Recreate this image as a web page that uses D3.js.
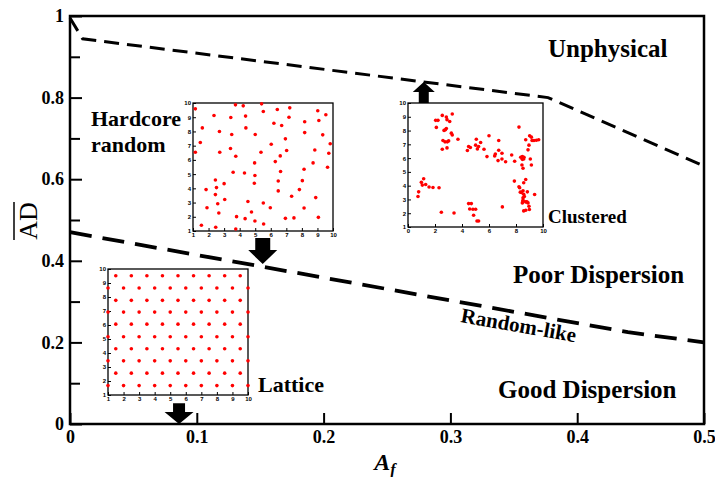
<!DOCTYPE html>
<html>
<head>
<meta charset="utf-8">
<script src="https://cdn.jsdelivr.net/npm/d3@7"></script>
<style>
  html, body { margin: 0; padding: 0; background: #fff; }
  svg { display: block; }
</style>
</head>
<body>
<div id="chart"></div>
<script>
// Phase diagram: mean AD against area fraction A_f

const xTicks = [0, 0.1, 0.2, 0.3, 0.4, 0.5];
const yTicks = [0, 0.2, 0.4, 0.6, 0.8, 1];
const yMinorTicks = [0.1, 0.3, 0.5, 0.7, 0.9];

// upper boundary (unphysical region)
const upperX = [0, 0.01, 0.377, 0.5];
const upperY = [0.995, 0.944, 0.80, 0.632];

// random-like reference curve
const lowerX = [0, 0.44, 0.5];
const lowerY = [0.47, 0.225, 0.2];

// inset: hardcore random configuration
const hardX = [1.15, 3.73, 4.23, 5.41, 2.35, 3.43, 4.38, 5.52, 6.42, 7.22, 9.02, 9.54,
  1.60, 4.40, 6.20, 6.70, 7.17, 8.18, 9.09, 2.70, 3.49, 5.00, 6.94, 8.18, 9.34,
  1.47, 3.41, 6.03, 9.82, 1.15, 2.72, 3.75, 5.37, 7.02, 8.83, 6.61, 9.73,
  4.96, 6.29, 8.72, 9.65, 3.58, 4.31, 4.98, 6.63, 8.14, 2.44, 6.48, 8.03,
  1.84, 2.51, 3.00, 4.94, 6.48, 7.84, 2.44, 7.34, 8.89, 3.04, 2.59, 4.53, 5.52,
  1.90, 5.97, 8.14, 2.66, 4.76, 3.80, 4.35, 6.94, 7.49, 9.06, 1.54, 2.46, 3.75, 4.98, 5.54];
const hardY = [9.59, 9.87, 9.80, 9.94, 9.12, 8.98, 9.08, 9.40, 9.54, 9.66, 9.45, 9.17,
  8.25, 8.25, 8.58, 8.42, 9.00, 8.68, 8.77, 8.00, 7.78, 7.78, 7.48, 7.92, 7.76,
  7.22, 6.80, 7.10, 7.13, 6.54, 6.54, 6.26, 6.54, 6.66, 6.70, 6.28, 6.47,
  5.79, 5.88, 5.79, 5.48, 5.13, 5.08, 4.90, 5.18, 5.34, 4.59, 4.52, 4.54,
  3.91, 4.05, 4.33, 4.36, 3.82, 3.91, 3.56, 3.44, 3.35, 3.21, 2.92, 3.07, 2.97,
  2.64, 2.64, 2.62, 2.27, 2.34, 2.01, 1.87, 1.89, 1.92, 1.96, 1.40, 1.26, 1.14, 1.70, 1.49];

// inset: clustered configuration
const clusX = [2.54, 2.84, 3.28, 2.05, 2.22, 2.89, 3.09, 2.10, 2.67, 2.77, 2.84, 3.21, 3.28, 3.70,
  2.59, 3.01, 2.74, 2.91, 2.54, 2.89,
  4.40, 4.49, 4.62, 5.01, 5.14, 5.23, 5.06, 5.38, 5.63, 6.00, 5.85, 6.47, 6.42, 6.72, 6.72,
  6.67, 6.96, 6.96, 7.23, 7.68, 7.90,
  8.22, 8.35, 8.47, 8.47, 8.57, 8.59, 8.52, 8.44, 8.72, 9.01, 9.14, 8.96, 8.89, 9.06, 9.14,
  9.19, 9.33, 9.51, 9.68,
  7.88, 8.22, 8.27, 8.32, 8.40, 8.57, 8.52, 8.57, 8.62, 8.72, 8.52, 8.52, 8.52, 8.72, 8.81,
  8.89, 8.96, 8.99, 8.72, 8.57, 8.47, 9.38, 6.99, 8.84,
  0.74, 0.79, 0.99, 1.06, 1.16, 1.31, 1.56, 1.85, 2.30, 2.47,
  3.41, 4.49, 4.69, 4.81, 4.86, 5.01, 5.11, 5.23, 4.57, 5.51];
const clusY = [9.10, 8.98, 9.20, 8.74, 8.74, 8.79, 8.66, 8.23, 8.01, 8.06, 8.15, 7.81, 7.68, 7.37,
  7.28, 7.25, 7.18, 7.18, 6.64, 6.74,
  6.55, 6.84, 6.77, 6.94, 6.67, 6.84, 7.37, 7.13, 6.64, 7.62, 6.11, 6.30, 6.16, 7.28, 6.57,
  5.82, 6.35, 5.94, 5.74, 6.23, 5.77,
  8.25, 6.06, 5.91, 6.11, 5.94, 6.06, 5.26, 5.50, 7.33, 7.62, 7.52, 6.94, 6.60, 5.94, 5.50,
  7.28, 7.28, 7.30, 7.33,
  4.33, 3.92, 3.85, 3.53, 3.51, 4.21, 3.63, 3.38, 3.21, 4.45, 3.12, 2.95, 2.87, 2.82, 2.82,
  2.75, 2.51, 2.27, 2.22, 2.17, 2.75, 3.36, 2.46,
  3.55, 3.21, 3.55, 4.24, 4.04, 4.50, 4.09, 3.90, 3.87, 3.85,
  2.07, 2.02, 2.70, 2.70, 2.29, 1.85, 2.29, 1.44, 1.44, 2.31];

// inset: triangular lattice (rows alternate between the two column sets)
const latRowY = [9.52, 8.64, 7.76, 6.92, 6.06, 5.16, 4.30, 3.44, 2.56, 1.67];
const latColsShift = [1.5, 2.5, 3.5, 4.5, 5.5, 6.5, 7.5, 8.5, 9.5];
const latColsFull = [1, 2, 3, 4, 5, 6, 7, 8, 9, 10];

const insetTicks = [1, 2, 3, 4, 5, 6, 7, 8, 9, 10];
const clusXTicks = [0, 2, 4, 6, 8, 10];

const SERIF = "'Liberation Serif', 'Times New Roman', Times, 'DejaVu Serif', serif";

const width = 715, height = 477;
const margin = { top: 16, right: 11, bottom: 53, left: 70 };

const svg = d3.select("#chart").append("svg")
    .attr("width", width)
    .attr("height", height)
    .attr("font-family", SERIF)
    .style("background", "#fff");

const x = d3.scaleLinear().domain([0, 0.5]).range([margin.left, width - margin.right]);
const y = d3.scaleLinear().domain([0, 1]).range([height - margin.bottom, margin.top]);

// --- axes (ticks point inward) ---
const gy = svg.append("g")
    .attr("class", "main-axis")
    .attr("transform", `translate(${margin.left},0)`)
    .call(d3.axisLeft(y)
        .tickValues(yTicks)
        .tickSizeInner(-12)
        .tickSizeOuter(0)
        .tickPadding(6)
        .tickFormat(d => String(d)));

svg.append("g")
    .attr("class", "main-axis")
    .attr("transform", `translate(${margin.left},0)`)
    .call(d3.axisLeft(y).tickValues(yMinorTicks).tickSizeInner(-10).tickSizeOuter(0).tickFormat(""));

svg.append("g")
    .attr("class", "main-axis")
    .attr("transform", `translate(0,${y(0)})`)
    .call(d3.axisBottom(x)
        .tickValues(xTicks)
        .tickSizeInner(-11)
        .tickSizeOuter(0)
        .tickPadding(6)
        .tickFormat(d => String(d)));

svg.selectAll(".main-axis .domain").remove();
svg.selectAll(".main-axis").attr("font-family", null);
svg.selectAll(".main-axis .tick line").attr("stroke", "#000").attr("stroke-width", 2);
svg.selectAll(".main-axis .tick text")
    .attr("fill", "#000")
    .style("font-family", SERIF)
    .style("font-size", "18px")
    .style("font-weight", "bold");

// frame
svg.append("rect")
    .attr("x", x(0))
    .attr("y", y(1))
    .attr("width", x(0.5) - x(0))
    .attr("height", y(0) - y(1))
    .attr("fill", "none")
    .attr("stroke", "#000")
    .attr("stroke-width", 2.5);

// --- curves ---
const line = d3.line().x(d => x(d[0])).y(d => y(d[1]));

svg.append("path")
    .datum(d3.zip(upperX, upperY))
    .attr("d", line)
    .attr("fill", "none")
    .attr("stroke", "#000")
    .attr("stroke-width", 3)
    .attr("stroke-dasharray", "15,8");

svg.append("path")
    .datum(d3.zip(lowerX, lowerY))
    .attr("d", line)
    .attr("fill", "none")
    .attr("stroke", "#000")
    .attr("stroke-width", 3.8)
    .attr("stroke-dasharray", "22,11");

// --- insets ---
function drawInset(box, xDom, yDom, xLabels, pts) {
    const ix = d3.scaleLinear().domain(xDom).range([box.x, box.x + box.w]);
    const iy = d3.scaleLinear().domain(yDom).range([box.y + box.h, box.y]);
    const g = svg.append("g");

    g.append("rect")
        .attr("x", box.x).attr("y", box.y)
        .attr("width", box.w).attr("height", box.h)
        .attr("fill", "#fff")
        .attr("stroke", "#000")
        .attr("stroke-width", 1.3);

    g.append("g")
        .attr("transform", `translate(0,${box.y + box.h})`)
        .call(d3.axisBottom(ix).tickValues(xLabels).tickSizeInner(-3).tickSizeOuter(0)
            .tickPadding(2).tickFormat(d => String(d)));
    g.append("g")
        .attr("transform", `translate(${box.x},0)`)
        .call(d3.axisLeft(iy).tickValues(insetTicks).tickSizeInner(-3).tickSizeOuter(0)
            .tickPadding(2).tickFormat(d => String(d)));
    g.selectAll(".domain").remove();
    g.selectAll(".tick line").attr("stroke", "#000").attr("stroke-width", 1);
    g.selectAll(".tick text")
        .attr("fill", "#000")
        .style("font-size", "6px")
        .style("font-weight", "bold")
        .style("font-family", "'Liberation Sans', Arial, sans-serif");

    g.selectAll("circle.pt")
        .data(pts)
        .join("circle")
        .attr("class", "pt")
        .attr("cx", d => ix(d[0]))
        .attr("cy", d => iy(d[1]))
        .attr("r", 1.8)
        .attr("fill", "#ff0000");
}

drawInset({ x: 193, y: 103, w: 140, h: 128 }, [1, 10], [1, 10], insetTicks, d3.zip(hardX, hardY));
drawInset({ x: 408, y: 103, w: 135, h: 124 }, [0, 10], [1, 10], clusXTicks, d3.zip(clusX, clusY));

const latticePts = [];
latRowY.forEach((ry, i) => {
    (i % 2 === 0 ? latColsShift : latColsFull).forEach(cx => latticePts.push([cx, ry]));
});
drawInset({ x: 108, y: 269, w: 140, h: 126 }, [1, 10], [1, 10], insetTicks, latticePts);

// --- block arrows (tip, base in data units) ---
function arrow(tipX, tipY, baseY, headH, headHalf, shaftHalf) {
    const tx = x(tipX), ty = y(tipY), by = y(baseY);
    const dir = ty > by ? 1 : -1;
    const hy = ty - dir * headH;
    const p = d3.path();
    p.moveTo(tx - shaftHalf, by);
    p.lineTo(tx + shaftHalf, by);
    p.lineTo(tx + shaftHalf, hy);
    p.lineTo(tx + headHalf, hy);
    p.lineTo(tx, ty);
    p.lineTo(tx - headHalf, hy);
    p.lineTo(tx - shaftHalf, hy);
    p.closePath();
    svg.append("path").attr("d", p.toString()).attr("fill", "#000");
}
arrow(0.152, 0.392, 0.456, 14, 14.5, 7.5);
arrow(0.279, 0.838, 0.787, 10, 11, 5);
arrow(0.086, 0.0, 0.051, 12, 14.5, 6);

// --- region labels ---
const labels = [
    { t: "Unphysical", x: 548, y: 57, s: 25 },
    { t: "Hardcore", x: 91, y: 126, s: 22 },
    { t: "random", x: 91, y: 152, s: 22 },
    { t: "Clustered", x: 548, y: 223, s: 19 },
    { t: "Poor Dispersion", x: 513, y: 283, s: 25 },
    { t: "Lattice", x: 258, y: 392, s: 22 },
    { t: "Good Dispersion", x: 498, y: 398, s: 25 }
];
svg.selectAll("text.lbl")
    .data(labels)
    .join("text")
    .attr("class", "lbl")
    .attr("x", d => d.x)
    .attr("y", d => d.y)
    .style("font-family", SERIF)
    .style("font-size", d => d.s + "px")
    .style("font-weight", "bold")
    .attr("fill", "#000")
    .text(d => d.t);

svg.append("text")
    .attr("transform", "translate(460,322) rotate(10)")
    .style("font-family", SERIF)
    .style("font-size", "21px")
    .style("font-weight", "bold")
    .text("Random-like");

// axis titles
svg.append("text")
    .attr("transform", "translate(385,470)")
    .attr("text-anchor", "middle")
    .style("font-family", SERIF)
    .style("font-size", "24px")
    .style("font-weight", "bold")
    .style("font-style", "italic")
    .call(t => {
        t.append("tspan").text("A");
        t.append("tspan").attr("dy", 5).style("font-size", "16px").text("f");
    });

const yt = svg.append("g").attr("transform", "translate(37,221) rotate(-90)");
yt.append("text")
    .attr("text-anchor", "middle")
    .style("font-family", SERIF)
    .style("font-size", "26px")
    .text("AD");
yt.append("line")
    .attr("x1", -19).attr("x2", 19)
    .attr("y1", -23).attr("y2", -23)
    .attr("stroke", "#000")
    .attr("stroke-width", 1.5);
</script>
</body>
</html>
